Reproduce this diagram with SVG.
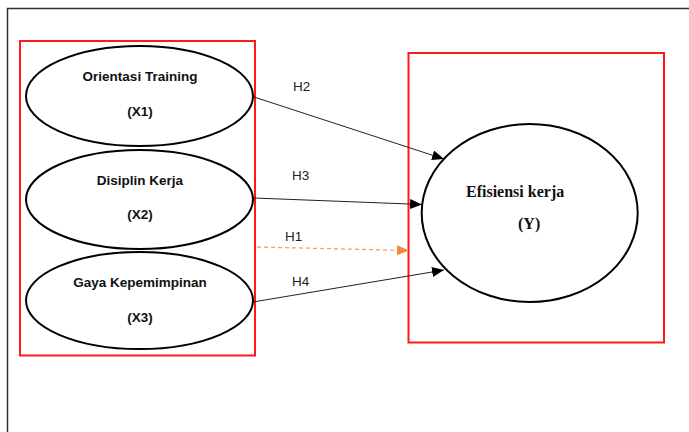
<svg xmlns="http://www.w3.org/2000/svg" width="689" height="432" viewBox="0 0 689 432">
<defs>
<style>
.frame{fill:none;stroke:#333;stroke-width:1.5}
.box{fill:none;stroke:#ff1a1a;stroke-width:2}
.node{fill:#fff;stroke:#000;stroke-width:2}
.lbl{font-family:"Liberation Sans",Arial,sans-serif;font-weight:bold;font-size:13.5px;fill:#111;text-anchor:middle}
.ylbl{font-family:"Liberation Serif","Times New Roman",serif;font-weight:bold;font-size:16px;fill:#111}
.h{font-family:"Liberation Sans",Arial,sans-serif;font-size:13.5px;fill:#222}
.conn{stroke:#222;stroke-width:1;fill:none}
.dash{stroke:#f4a069;stroke-width:1.3;stroke-dasharray:4 3;fill:none}
</style>
<marker id="ah" markerUnits="userSpaceOnUse" markerWidth="12" markerHeight="10" viewBox="0 0 12 10" refX="12" refY="5" orient="auto">
<path d="M0,0 L12,5 L0,10 Z" fill="#000"/>
</marker>
<marker id="aho" markerUnits="userSpaceOnUse" markerWidth="12" markerHeight="10" viewBox="0 0 12 10" refX="12" refY="5" orient="auto">
<path d="M0,0 L12,5 L0,10 Z" fill="#f08a3c"/>
</marker>
</defs>
<rect width="689" height="432" fill="#fff"/>
<path class="frame" d="M7.5,432 V8.5 H689"/>
<rect class="box" x="20" y="41" width="235" height="314.5"/>
<rect class="box" x="408.5" y="53" width="255.5" height="289.5"/>
<g id="connectors">
<line class="conn" x1="254" y1="97" x2="444" y2="159" marker-end="url(#ah)"/>
<line class="conn" x1="254" y1="198" x2="422" y2="204.5" marker-end="url(#ah)"/>
<line class="dash" x1="257" y1="247" x2="409" y2="250.5" marker-end="url(#aho)"/>
<line class="conn" x1="253" y1="302" x2="444" y2="270" marker-end="url(#ah)"/>
<text class="h" x="293" y="91">H2</text>
<text class="h" x="292" y="180">H3</text>
<text class="h" x="285" y="241">H1</text>
<text class="h" x="292" y="286">H4</text>
</g>
<g id="x1">
<ellipse class="node" cx="139.5" cy="96" rx="113.5" ry="50"/>
<text class="lbl" x="140" y="81">Orientasi Training</text>
<text class="lbl" x="140" y="116">(X1)</text>
</g>
<g id="x2">
<ellipse class="node" cx="139.5" cy="199.5" rx="113.5" ry="49.5"/>
<text class="lbl" x="140" y="185">Disiplin Kerja</text>
<text class="lbl" x="140" y="219">(X2)</text>
</g>
<g id="x3">
<ellipse class="node" cx="139.5" cy="300.5" rx="113.5" ry="48.5"/>
<text class="lbl" x="140" y="287">Gaya Kepemimpinan</text>
<text class="lbl" x="140" y="322">(X3)</text>
</g>
<g id="y">
<ellipse class="node" cx="529.7" cy="213" rx="108" ry="89"/>
<text class="ylbl" x="466" y="197">Efisiensi kerja</text>
<text class="ylbl" x="518" y="229">(Y)</text>
</g>
</svg>
